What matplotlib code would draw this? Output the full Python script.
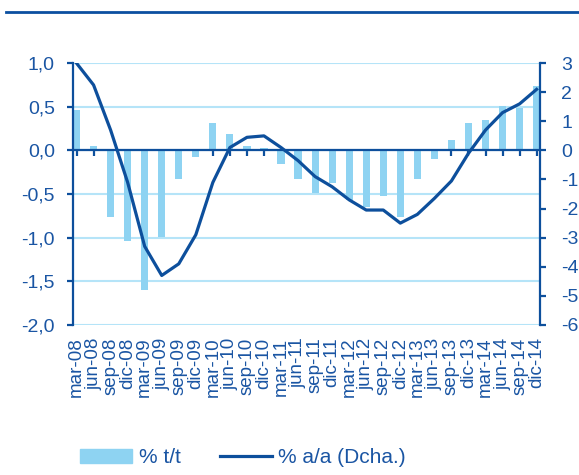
import matplotlib
matplotlib.use("Agg")
import matplotlib.pyplot as plt
from matplotlib.lines import Line2D
from matplotlib.patches import Patch
import numpy as np

trimestres = ['mar-08', 'jun-08', 'sep-08', 'dic-08', 'mar-09', 'jun-09', 'sep-09', 'dic-09',
              'mar-10', 'jun-10', 'sep-10', 'dic-10', 'mar-11', 'jun-11', 'sep-11', 'dic-11',
              'mar-12', 'jun-12', 'sep-12', 'dic-12', 'mar-13', 'jun-13', 'sep-13', 'dic-13',
              'mar-14', 'jun-14', 'sep-14', 'dic-14']
# % t/t (eje izquierdo)
tt = [0.46, 0.05, -0.76, -1.04, -1.60, -0.99, -0.33, -0.08,
      0.31, 0.19, 0.05, 0.03, -0.15, -0.33, -0.49, -0.37,
      -0.57, -0.65, -0.52, -0.76, -0.33, -0.10, 0.12, 0.31,
      0.35, 0.51, 0.49, 0.74]
# % a/a (eje derecho)
aa = [3.0, 2.25, 0.7, -1.1, -3.3, -4.3, -3.9, -2.9,
      -1.1, 0.1, 0.45, 0.5, 0.1, -0.35, -0.9, -1.25,
      -1.7, -2.05, -2.05, -2.5, -2.2, -1.65, -1.05, -0.1,
      0.7, 1.3, 1.6, 2.1]

izq_ticks = [-2.0, -1.5, -1.0, -0.5, 0.0, 0.5, 1.0]
der_ticks = [-6, -5, -4, -3, -2, -1, 0, 1, 2, 3]

azul = '#0d4f9c'
texto = '#1a55a3'
celeste = '#8ed3f2'
rejilla = '#b5e4f8'

plt.rcParams['font.family'] = ['Liberation Sans', 'DejaVu Sans']
plt.rcParams['axes.unicode_minus'] = False

fig = plt.figure(figsize=(5.79, 4.75), dpi=100)
ax = fig.add_axes([0.126, 0.316, 0.807, 0.551])
x = np.arange(len(trimestres))

ax.bar(x, tt, width=0.42, color=celeste, zorder=2)
ax.set_ylim(-2.0, 1.0)
ax.set_xlim(-0.21, len(trimestres) - 1 + 0.21)
ax.set_yticks(izq_ticks)
ax.set_yticklabels([('%.1f' % v).replace('.', ',') for v in izq_ticks])
for v in izq_ticks:
    ax.axhline(v, color=rejilla, lw=1.5, zorder=1)
ax.axhline(0, color=azul, lw=1.6, zorder=3)

for s in ['top', 'bottom', 'right']:
    ax.spines[s].set_visible(False)
ax.spines['left'].set_color(azul)
ax.spines['left'].set_linewidth(1.6)
ax.tick_params(axis='y', colors=azul, labelcolor=texto, labelsize=14, length=4, width=1.6, pad=9)

# etiquetas abajo, marcas en el cero
ax.set_xticks(x)
ax.set_xticklabels(trimestres, rotation=90, va='top', ha='center')
ax.tick_params(axis='x', length=0, labelcolor=texto, labelsize=13.5, pad=9)
sec = ax.secondary_xaxis(0, transform=ax.transData)
sec.set_xticks(x)
sec.set_xticklabels([])
sec.spines['bottom'].set_visible(False)
sec.tick_params(axis='x', direction='out', length=4, width=1.6, colors=azul)

ax2 = ax.twinx()
ax2.plot(x, aa, color=azul, lw=2.3, zorder=4, solid_joinstyle='round')
ax2.set_ylim(-6, 3)
ax2.set_yticks(der_ticks)
ax2.set_yticklabels([str(v) for v in der_ticks])
for s in ['top', 'bottom', 'left']:
    ax2.spines[s].set_visible(False)
ax2.spines['right'].set_color(azul)
ax2.spines['right'].set_linewidth(1.6)
ax2.tick_params(axis='y', colors=azul, labelcolor=texto, labelsize=14, length=4, width=1.6, pad=11)

# linea superior del recuadro
fig.add_artist(Line2D([0.01, 1.0], [0.975, 0.975], transform=fig.transFigure, color='#0b4fa0', lw=2))

handles = [Patch(color=celeste), Line2D([], [], color=azul, lw=2.3)]
leg = fig.legend(handles, ['% t/t', '% a/a (Dcha.)'], loc='center', ncol=2,
                 bbox_to_anchor=(0.42, 0.036), frameon=False, fontsize=15,
                 handlelength=2.5, handleheight=0.63, handletextpad=0.3, columnspacing=1.9)
for t in leg.get_texts():
    t.set_color(texto)

fig.savefig('out.png', dpi=100)
